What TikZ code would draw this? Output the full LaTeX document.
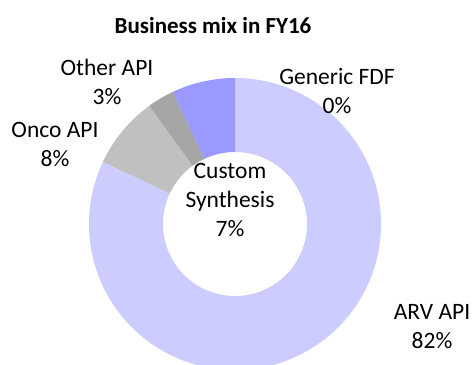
\documentclass[tikz,border=0pt]{standalone}
\usepackage{fontspec}
\setmainfont{Carlito}
\usetikzlibrary{calc}
\definecolor{arvcol}{HTML}{CCCCFF}
\definecolor{oncocol}{HTML}{C0C0C0}
\definecolor{othercol}{HTML}{A6A6A6}
\definecolor{customcol}{HTML}{9999FF}
\tikzset{
  lbl/.style={align=center, inner sep=0pt, font=\fontsize{23.5}{29}\selectfont},
  ttl/.style={inner sep=0pt, font=\fontsize{23}{28}\selectfont\bfseries},
}
% ring segment between angles #2 and #3, filled with colour #1
\newcommand{\ringseg}[3]{%
  \fill[#1] ($(c)+(#2:146)$) arc[start angle=#2, end angle=#3, radius=146]
    -- ($(c)+(#3:72)$) arc[start angle=#3, end angle=#2, radius=72] -- cycle;}
\begin{document}
\begin{tikzpicture}[x=1pt,y=1pt]
\useasboundingbox (0,0) rectangle (473,364);
\clip (0,0) rectangle (473,364);
\coordinate (c) at (235,140);
% donut slices, clockwise from the top
\ringseg{arvcol}{90}{-205.2}
\ringseg{oncocol}{154.8}{126}
\ringseg{othercol}{126}{115.2}
\ringseg{customcol}{115.2}{90}
% labels
\node[ttl] (title) at (213,338) {Business mix in FY16};
\node[lbl] (other) at (107,282) {Other API\\3\%};
\node[lbl] (generic) at (337,273) {Generic FDF\\0\%};
\node[lbl] (onco) at (55,220) {Onco API\\8\%};
\node[lbl] (custom) at (230,164) {Custom\\Synthesis\\7\%};
\node[lbl] (arv) at (432,37) {ARV API\\82\%};
\end{tikzpicture}
\end{document}
